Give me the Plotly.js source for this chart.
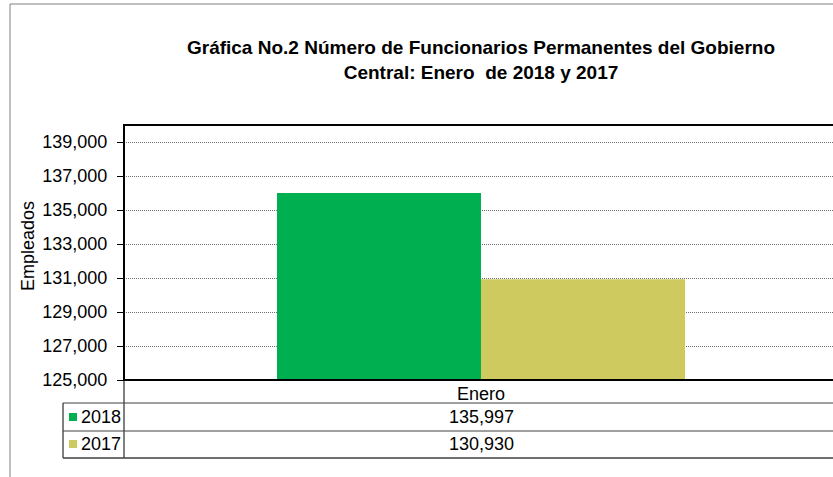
<!DOCTYPE html>
<html>
<head>
<meta charset="utf-8">
<script src="https://cdn.plot.ly/plotly-3.0.1.min.js"></script>
<style>
html, body { margin: 0; padding: 0; overflow: hidden; background: #ffffff; }
#chart { width: 845px; height: 477px; }
</style>
</head>
<body>
<div id="chart"></div>
<script>
// ---- data ----
const categories = ["Enero"];
const seriesNames = ["2018", "2017"];
const values2018 = [135997];
const values2017 = [130930];
const seriesColors = ["#00B050", "#CFCA60"];
const titleText = "Gráfica No.2 Número de Funcionarios Permanentes del Gobierno<br>Central: Enero  de 2018 y 2017";
const yTitle = "Empleados";

// ---- layout geometry (pixels) ----
const W = 845, H = 477;
const L = 124, R = 838, T = 125, B = 380;
const px = x => (x - L) / (R - L);
const py = y => (B - y) / (B - T);
const FONT = "Liberation Sans, Arial, sans-serif";
const FS = 18;

const allValues = [values2018, values2017];
const traces = seriesNames.map((name, i) => ({
  type: "bar",
  name: name,
  x: categories,
  y: allValues[i],
  marker: { color: seriesColors[i], line: { width: 0 } },
  hoverinfo: "none"
}));

const fmt = v => v.toLocaleString("en-US");

const shapes = [
  // outer chart border
  { type: "line", xref: "paper", yref: "paper", x0: px(10), x1: px(10), y0: py(4), y1: py(480), line: { color: "#808080", width: 1 } },
  { type: "line", xref: "paper", yref: "paper", x0: px(10), x1: px(W + 5), y0: py(4), y1: py(4), line: { color: "#808080", width: 1 } },
  // plot area border
  { type: "rect", xref: "paper", yref: "paper", x0: 0, x1: 1, y0: 0, y1: 1, line: { color: "#000000", width: 2 }, layer: "above" },
  // data table
  { type: "line", xref: "paper", yref: "paper", x0: px(124), x1: px(124), y0: py(380), y1: py(458), line: { color: "#000000", width: 1 } },
  { type: "line", xref: "paper", yref: "paper", x0: px(63), x1: px(63), y0: py(403), y1: py(458), line: { color: "#000000", width: 1 } },
  { type: "line", xref: "paper", yref: "paper", x0: px(63), x1: px(W + 5), y0: py(403), y1: py(403), line: { color: "#404040", width: 1 } },
  { type: "line", xref: "paper", yref: "paper", x0: px(63), x1: px(W + 5), y0: py(431), y1: py(431), line: { color: "#404040", width: 1 } },
  { type: "line", xref: "paper", yref: "paper", x0: px(63), x1: px(W + 5), y0: py(458), y1: py(458), line: { color: "#404040", width: 1.5 } }
];

const annotations = [
  { xref: "paper", yref: "paper", x: px(28), y: py(246), text: yTitle, textangle: -90, showarrow: false,
    font: { family: FONT, size: FS, color: "#000" }, xanchor: "center", yanchor: "middle" }
];

const rowY = [417, 444];
seriesNames.forEach((name, i) => {
  shapes.push({ type: "rect", xref: "paper", yref: "paper", x0: px(69), x1: px(77), y0: py(rowY[i] - 4), y1: py(rowY[i] + 4),
    fillcolor: seriesColors[i], line: { width: 0 } });
  annotations.push({ xref: "paper", yref: "paper", x: px(79), y: py(rowY[i]), text: name, showarrow: false,
    xanchor: "left", yanchor: "middle", font: { family: FONT, size: FS, color: "#000" } });
  annotations.push({ xref: "x", yref: "paper", x: categories[0], y: py(rowY[i]), text: fmt(allValues[i][0]), showarrow: false,
    xanchor: "center", yanchor: "middle", font: { family: FONT, size: FS, color: "#000" } });
});

const layout = {
  width: W, height: H,
  margin: { l: L, r: W - R, t: T, b: H - B, pad: 0 },
  paper_bgcolor: "#ffffff", plot_bgcolor: "#ffffff",
  showlegend: false,
  barmode: "group",
  bargap: 1 - 408 / 714,
  bargroupgap: 0,
  title: {
    text: titleText,
    xref: "paper", x: 0.5, xanchor: "center",
    yref: "container", y: 1 - 54 / H, yanchor: "middle",
    font: { family: FONT, size: 19, color: "#000", weight: "bold" }
  },
  xaxis: {
    type: "category",
    showgrid: false, zeroline: false, showline: false,
    ticks: "", tickfont: { family: FONT, size: FS, color: "#000" },
    ticklabelstandoff: 1
  },
  yaxis: {
    range: [125000, 140000],
    tick0: 125000, dtick: 2000,
    tickformat: ",d",
    showgrid: true, griddash: "1px,1px", gridcolor: "#6e6e6e", gridwidth: 1,
    zeroline: false, showline: false,
    ticks: "outside", ticklen: 6, tickcolor: "#000", tickwidth: 1,
    tickfont: { family: FONT, size: FS, color: "#000" },
    ticklabelstandoff: 6
  },
  shapes: shapes,
  annotations: annotations
};

Plotly.newPlot("chart", traces, layout, { displayModeBar: false, staticPlot: true });
</script>
</body>
</html>
